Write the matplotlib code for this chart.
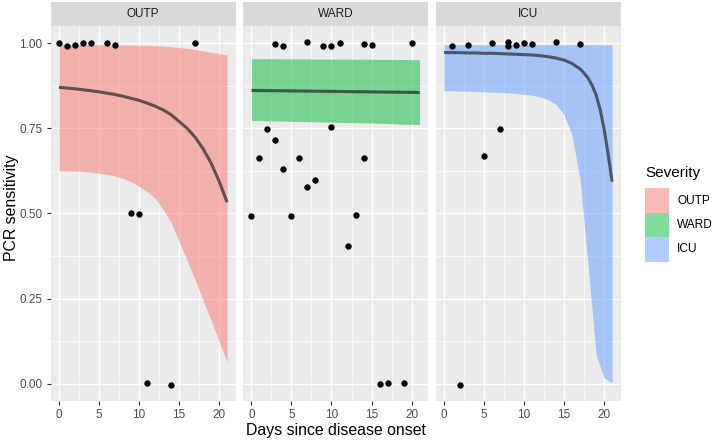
import numpy as np
import matplotlib.pyplot as plt
from matplotlib.patches import Rectangle

# days since onset for the ribbons
days = list(range(22))

groups = ['OUTP', 'WARD', 'ICU']
colors = ['#F8766D', '#00BA38', '#619CFF']

# fitted curves (x values per group)
fit_days = {
    'OUTP': days,
    'WARD': days,
    'ICU': list(range(18)) + [17.5, 18, 18.5, 19, 19.5, 20, 20.5, 21],
}
fit = {
    'OUTP': [.870, .868, .866, .863, .860, .857, .853, .849, .844, .838, .832,
             .824, .815, .804, .790, .770, .750, .724, .690, .648, .595, .533],
    'WARD': [.861, .8607, .8604, .8601, .8599, .8596, .8593, .859, .8587, .8584, .8581,
             .8579, .8576, .8573, .857, .8567, .8564, .8561, .8559, .8556, .8553, .855],
    'ICU': [.972, .972, .972, .971, .971, .970, .970, .969, .968, .967, .966,
            .965, .963, .960, .956, .950, .940, .924,
            .912, .897, .876, .848, .806, .748, .675, .593],
}
upper = {
    'OUTP': [.995, .995, .995, .995, .995, .995, .994, .994, .994, .994, .993,
             .993, .992, .991, .989, .987, .984, .981, .977, .973, .969, .965],
    'WARD': [.954, .954, .954, .954, .9535, .9535, .9535, .9535, .953, .953, .953,
             .953, .9525, .9525, .9525, .9525, .952, .952, .952, .9515, .9515, .951],
    'ICU': [.995] * 22,
}
lower = {
    'OUTP': [.625, .625, .624, .623, .621, .618, .615, .610, .603, .593, .580,
             .564, .545, .512, .474, .418, .363, .306, .246, .186, .125, .065],
    'WARD': [.773, .7725, .772, .7715, .771, .7705, .770, .7695, .769, .7685, .768,
             .7675, .767, .7665, .766, .7655, .765, .764, .763, .762, .7615, .761],
    'ICU': [.860, .860, .859, .859, .858, .857, .856, .855, .854, .852, .850,
            .847, .842, .834, .820, .790, .730, .600, .350, .085, .018, .004],
}

# observed (jittered) points
pts_x = {
    'OUTP': [0, 1, 2, 3, 4, 6, 7, 17, 9, 10, 11, 14],
    'WARD': [3, 4, 7, 9, 10, 11, 14, 15, 20, 2, 10, 3, 1, 6, 14, 4, 8, 7, 0, 5, 13, 12, 16, 17, 19],
    'ICU': [1, 3, 6, 8, 8, 9, 10, 11, 14, 17, 7, 5, 2],
}
pts_y = {
    'OUTP': [1.0, .99, .995, 1.0, 1.0, 1.001, .995, 1.0, .502, .498, .002, -.002],
    'WARD': [.996, .992, 1.003, .992, .991, 1.0, .996, .994, .999, .749, .753, .716, .664,
             .664, .664, .630, .598, .579, .493, .493, .496, .405, .001, .003, .003],
    'ICU': [.992, .995, 1.0, 1.003, .991, .995, 1.001, .996, 1.002, .998, .748, .669, -.003],
}

W, H = 714, 440
fig = plt.figure(figsize=(W / 100, H / 100), dpi=100)
plt.rcParams['font.family'] = ['Liberation Sans', 'DejaVu Sans']

lefts = [50.5, 243, 435.5]
pw = 185
top, bot = 26, 401
strip_top = 2

for i, g in enumerate(groups):
    ax = fig.add_axes([lefts[i] / W, 1 - bot / H, pw / W, (bot - top) / H])
    ax.set_facecolor('#EBEBEB')
    for s in ax.spines.values():
        s.set_visible(False)
    ax.set_xlim(-1.05, 22.05)
    ax.set_ylim(-0.05, 1.05)
    ax.set_xticks([0, 5, 10, 15, 20])
    ax.set_xticks([2.5, 7.5, 12.5, 17.5], minor=True)
    ax.set_yticks([0, .25, .5, .75, 1])
    ax.set_yticks([.125, .375, .625, .875], minor=True)
    ax.grid(which='major', color='white', lw=1.0)
    ax.grid(which='minor', color='white', lw=0.5)
    ax.set_axisbelow(True)
    ax.tick_params(which='minor', length=0)
    ax.tick_params(which='major', length=3, width=0.8, color='#333333',
                   labelcolor='#4D4D4D', labelsize=8.5, pad=3)
    if i == 0:
        ax.set_yticklabels(['0.00', '0.25', '0.50', '0.75', '1.00'])
    else:
        ax.tick_params(axis='y', left=False, labelleft=False)

    ax.fill_between(days, lower[g], upper[g], color=colors[i], alpha=0.5, lw=0)
    ax.plot(fit_days[g], fit[g], color='#262626', alpha=0.7, lw=2.2,
            solid_capstyle='butt', solid_joinstyle='round')
    ax.scatter(pts_x[g], pts_y[g], s=21, color='black', zorder=3, lw=0)

    sax = fig.add_axes([lefts[i] / W, 1 - top / H, pw / W, (top - strip_top) / H])
    sax.set_facecolor('#D9D9D9')
    sax.set_xticks([])
    sax.set_yticks([])
    for s in sax.spines.values():
        s.set_visible(False)
    sax.text(0.5, 0.5, g, ha='center', va='center', fontsize=8.5, color='#1A1A1A',
             transform=sax.transAxes)

fig.text(336 / W, 1 - 430 / H, 'Days since disease onset', ha='center', va='center',
         fontsize=11.4, color='black')
fig.text(12 / W, 1 - 208 / H, 'PCR sensitivity', ha='center', va='center',
         rotation=90, fontsize=11.4, color='black')

# legend drawn by hand, in figure pixels
fig.text(645 / W, 1 - 173 / H, 'Severity', ha='left', va='center', fontsize=11)
key_top = 188.3
key_h = 24.4
for i, g in enumerate(groups):
    y0 = key_top + i * key_h
    fig.add_artist(Rectangle((645 / W, 1 - (y0 + key_h) / H), 24 / W, key_h / H,
                             transform=fig.transFigure, facecolor=colors[i],
                             alpha=0.5, lw=0))
    fig.text(677 / W, 1 - (y0 + key_h / 2) / H, g, ha='left', va='center', fontsize=8.6)

fig.savefig('out.png', dpi=100)
